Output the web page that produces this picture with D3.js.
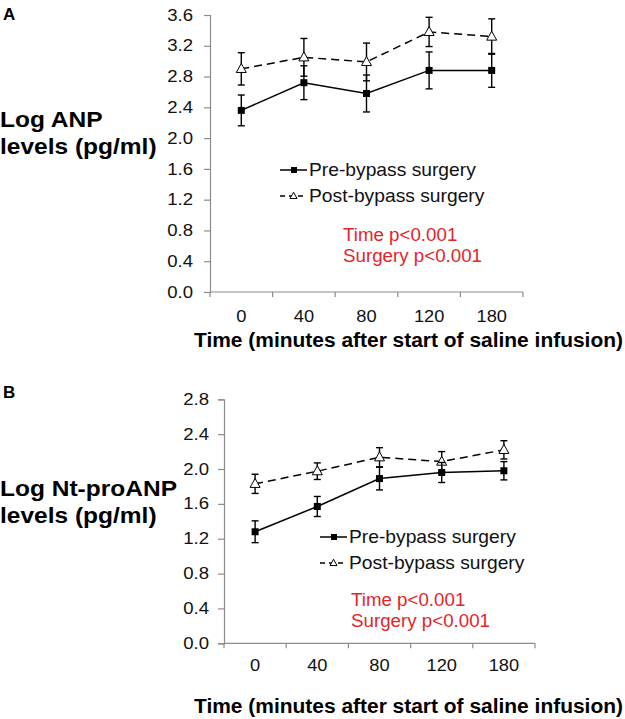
<!DOCTYPE html>
<html><head><meta charset="utf-8">
<script src="https://cdn.jsdelivr.net/npm/d3@7"></script>
<style>body{margin:0;background:#fff}svg{display:block;font-family:"Liberation Sans",Arial,sans-serif}</style>
</head><body>
<svg id="c" width="625" height="719"></svg>
<script>
const categories = ["0","40","80","120","180"];
const anpPre = [2.36, 2.72, 2.58, 2.88, 2.88];
const anpPreErr = [0.20, 0.22, 0.24, 0.24, 0.22];
const anpPost = [2.90, 3.05, 2.99, 3.38, 3.32];
const anpPostErr = [0.21, 0.245, 0.245, 0.19, 0.23];
const ntPre = [1.28, 1.57, 1.89, 1.96, 1.98];
const ntPreErr = [0.125, 0.115, 0.13, 0.115, 0.105];
const ntPost = [1.83, 1.975, 2.135, 2.085, 2.22];
const ntPostErr = [0.11, 0.095, 0.11, 0.115, 0.105];
const anpTicks = [0,0.4,0.8,1.2,1.6,2.0,2.4,2.8,3.2,3.6];
const ntTicks = [0,0.4,0.8,1.2,1.6,2.0,2.4,2.8];
const legendLabels = ["Pre-bypass surgery","Post-bypass surgery"];
const statLabels = ["Time p<0.001","Surgery p<0.001"];
const xTitle = "Time (minutes after start of saline infusion)";

const svg = d3.select("#c");

function stretch(sel, k){
  sel.each(function(){
    const w = this.getComputedTextLength();
    this.setAttribute("textLength", (w*k).toFixed(1));
    this.setAttribute("lengthAdjust","spacingAndGlyphs");
  });
}

function panel(cfg){
  const g = svg.append("g");
  const x = d3.scaleBand().domain(categories).range([cfg.x0, cfg.x1]).padding(0);
  const y = d3.scaleLinear().domain([0, cfg.ymax]).range([cfg.yb, cfg.yt]);
  const axisColor = "#8c8c8c";
  const ya = g.append("g").attr("transform",`translate(${cfg.x0},0)`)
    .call(d3.axisLeft(y).tickValues(cfg.ticks).tickFormat(d3.format(".1f")).tickSize(6).tickPadding(cfg.yPad));
  ya.select(".domain").attr("stroke",axisColor).attr("stroke-width",1.2);
  ya.selectAll(".tick line").attr("stroke",axisColor).attr("stroke-width",1.2);
  const yt = ya.selectAll("text").attr("font-size",16).attr("fill","#111").attr("font-family","Liberation Sans, Arial");
  stretch(yt, 1.16);
  const xa = g.append("g").attr("transform",`translate(0,${cfg.yb})`);
  xa.append("line").attr("x1",cfg.x0).attr("x2",cfg.x1).attr("stroke",axisColor).attr("stroke-width",1.2);
  const bounds = categories.map(c=>x(c)).concat([cfg.x1]);
  xa.selectAll("line.t").data(bounds).join("line").attr("class","t")
    .attr("x1",d=>d).attr("x2",d=>d).attr("y1",0).attr("y2",5).attr("stroke",axisColor).attr("stroke-width",1.2);
  const xt = xa.selectAll("text").data(categories).join("text")
    .attr("x",d=>x(d)+x.bandwidth()/2).attr("y",cfg.xLabelDy).attr("text-anchor","middle")
    .attr("font-size",16).attr("fill","#111").text(d=>d);
  stretch(xt, 1.14);
  const tt = g.append("text").attr("x",cfg.titleX).attr("y",cfg.titleY).attr("font-weight","bold").attr("font-size",19.5)
    .attr("fill","#000").text(xTitle);
  tt.attr("textLength",cfg.titleW).attr("lengthAdjust","spacingAndGlyphs");
  g.append("text").attr("x",3).attr("y",cfg.letterY).attr("font-weight","bold").attr("font-size",17).text(cfg.letter);
  const yl = g.selectAll("text.yl").data(cfg.ylab).join("text").attr("class","yl")
    .attr("x",0).attr("y",(d,i)=>cfg.ylabY + i*cfg.ylabGap).attr("font-weight","bold")
    .attr("font-size",21.5).text(d=>d);
  stretch(yl, 1.14);
  const cx = d=>x(d)+x.bandwidth()/2;
  const series = [
    {v:cfg.post, e:cfg.postErr, dash:"8,5", marker:"tri"},
    {v:cfg.pre, e:cfg.preErr, dash:null, marker:"sq"}
  ];
  series.forEach(s=>{
    const pts = categories.map((c,i)=>({c, v:s.v[i], e:s.e[i]}));
    const eb = g.append("g").attr("stroke","#000").attr("stroke-width",1.4);
    pts.forEach(p=>{
      eb.append("line").attr("x1",cx(p.c)).attr("x2",cx(p.c)).attr("y1",y(p.v+p.e)).attr("y2",y(p.v-p.e));
      [p.v+p.e,p.v-p.e].forEach(vv=>eb.append("line").attr("x1",cx(p.c)-3.5).attr("x2",cx(p.c)+3.5).attr("y1",y(vv)).attr("y2",y(vv)));
    });
    g.append("path").datum(pts).attr("fill","none").attr("stroke","#000").attr("stroke-width",1.5)
      .attr("stroke-dasharray",s.dash).attr("d",d3.line().x(p=>cx(p.c)).y(p=>y(p.v)));
    pts.forEach(p=>drawMarker(g,s.marker,cx(p.c),y(p.v)));
  });
  const lg = g.append("g");
  legendLabels.forEach((t,i)=>{
    const ly = cfg.legY + i*cfg.legGap;
    const ls = i===0? null : "5,4";
    lg.append("line").attr("x1",cfg.legX).attr("x2",cfg.legX+27).attr("y1",ly-6).attr("y2",ly-6)
      .attr("stroke","#000").attr("stroke-width",1.5).attr("stroke-dasharray",ls);
    if(i===0) lg.append("rect").attr("x",cfg.legX+11).attr("y",ly-9).attr("width",6).attr("height",6).attr("fill","#000");
    else drawMarker(lg,"tri",cfg.legX+13.5,ly-6,7);
    const lt = lg.append("text").attr("x",cfg.legX+29).attr("y",ly).attr("font-size",18.5).attr("fill","#111").text(t);
    stretch(lt, 1.04);
  });
  statLabels.forEach((t,i)=>{
    const st = g.append("text").attr("x",cfg.statX).attr("y",cfg.statY+i*21)
      .attr("font-size",17.5).attr("fill","#e3242b").text(t);
    stretch(st, 1.07);
  });
}
function drawMarker(g,type,x,y,size){
  if(type==="sq"){
    g.append("rect").attr("x",x-3.5).attr("y",y-3.5).attr("width",7).attr("height",7).attr("fill","#000");
  } else {
    const s = size||10;
    const h = s*0.9;
    g.append("path").attr("d",`M${x},${y-h*0.6}L${x+s/2},${y+h*0.4}L${x-s/2},${y+h*0.4}Z`)
      .attr("fill","#fff").attr("stroke","#000").attr("stroke-width",1);
  }
}

panel({x0:210,x1:523,yb:292,yt:15,ymax:3.6,yPad:11,ticks:anpTicks,pre:anpPre,preErr:anpPreErr,post:anpPost,postErr:anpPostErr,
  xLabelDy:30,titleX:194,titleY:347,titleW:429,letter:"A",letterY:20,ylab:["Log ANP","levels (pg/ml)"],ylabY:127,ylabGap:27,
  legX:280,legY:176,legGap:26,statX:343,statY:241});
panel({x0:224,x1:535,yb:643.3,yt:399.3,ymax:2.8,yPad:9,ticks:ntTicks,pre:ntPre,preErr:ntPreErr,post:ntPost,postErr:ntPostErr,
  xLabelDy:28,titleX:194,titleY:713,titleW:429,letter:"B",letterY:398,ylab:["Log Nt-proANP","levels (pg/ml)"],ylabY:496,ylabGap:27,
  legX:320,legY:543,legGap:26,statX:351,statY:606});
</script>
</body></html>
